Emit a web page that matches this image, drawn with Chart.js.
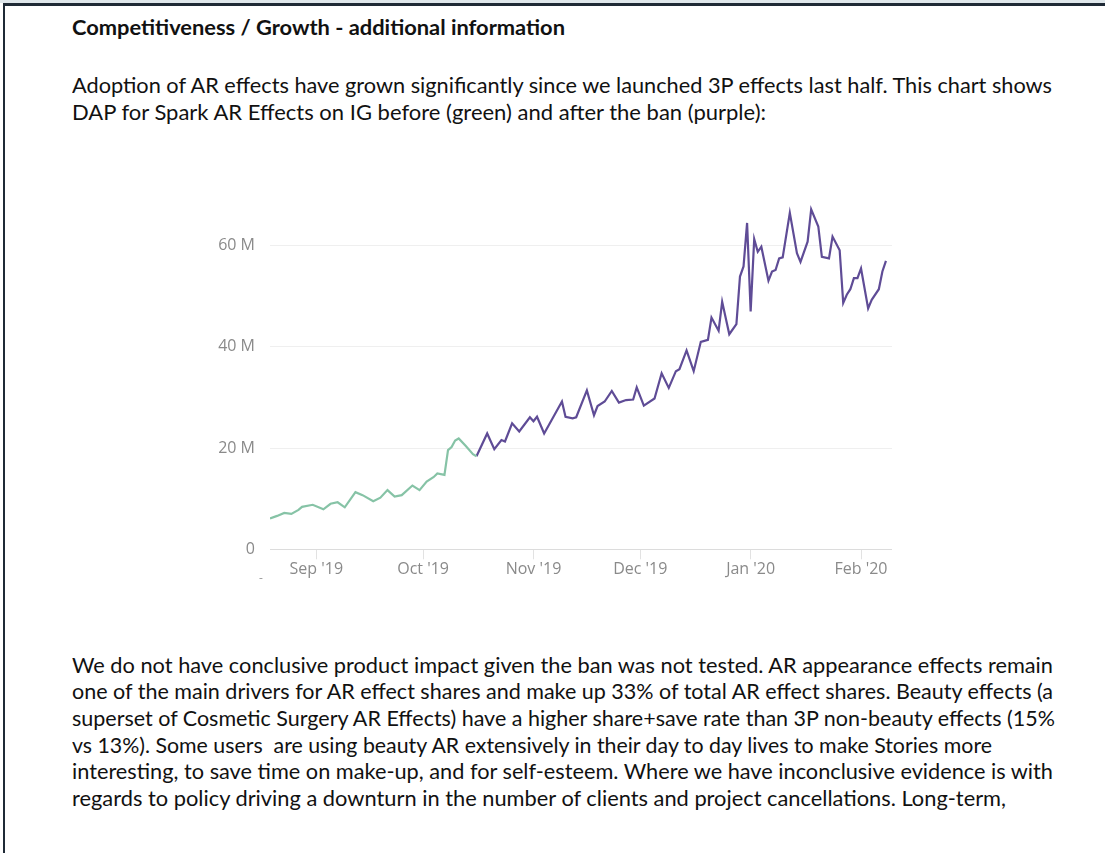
<!DOCTYPE html>
<html>
<head>
<meta charset="utf-8">
<script src="https://cdn.jsdelivr.net/npm/chart.js@4.4.1/dist/chart.umd.min.js"></script>
<style>
  html, body { margin:0; padding:0; background:#ffffff; width:1105px; height:853px; overflow:hidden; }
  #topstrip { position:absolute; left:0; top:0; width:1105px; height:3px; background:#dfe7eb; }
  #topborder { position:absolute; left:3px; top:3px; width:1102px; height:3px; background:#1f2a36; }
  #leftborder { position:absolute; left:3px; top:3px; width:2px; height:850px; background:#1f2a36; }
  .ln { position:absolute; left:72px; white-space:pre; font-family:Lato, "Open Sans", sans-serif; font-size:21px; line-height:26px; color:#111111; transform-origin:0 0; display:inline-block; }
  .b { font-weight:700; }
  #wrap { position:absolute; left:180px; top:170px; width:740px; height:430px; }
  #dash { position:absolute; left:259px; top:569px; font-family:"Open Sans", sans-serif; font-size:12px; color:#9a9a9a; }
</style>
</head>
<body>
<div id="topstrip"></div>
<div id="topborder"></div>
<div id="leftborder"></div>

<div class="ln b" style="top:14px" data-w="493">Competitiveness / Growth - additional information</div>
<div class="ln" style="top:72px" data-w="980">Adoption of AR effects have grown significantly since we launched 3P effects last half. This chart shows</div>
<div class="ln" style="top:99px" data-w="694">DAP for Spark AR Effects on IG before (green) and after the ban (purple):</div>

<div class="ln" style="top:652px" data-w="981">We do not have conclusive product impact given the ban was not tested. AR appearance effects remain</div>
<div class="ln" style="top:678px" data-w="981">one of the main drivers for AR effect shares and make up 33% of total AR effect shares. Beauty effects (a</div>
<div class="ln" style="top:705px" data-w="983">superset of Cosmetic Surgery AR Effects) have a higher share+save rate than 3P non-beauty effects (15%</div>
<div class="ln" style="top:732px" data-w="920">vs 13%). Some users  are using beauty AR extensively in their day to day lives to make Stories more</div>
<div class="ln" style="top:758px" data-w="981">interesting, to save time on make-up, and for self-esteem. Where we have inconclusive evidence is with</div>
<div class="ln" style="top:785px" data-w="934">regards to policy driving a downturn in the number of clients and project cancellations. Long-term,</div>

<div id="wrap"><canvas id="c" width="740" height="430"></canvas></div>
<div id="dash">-</div>

<script>
// ---- data (DAP, millions) ----
const startDate = '2019-08-19';

const beforeDates = ['2019-08-19','2019-08-21','2019-08-23','2019-08-25','2019-08-27','2019-08-28','2019-08-31',
  '2019-09-03','2019-09-05','2019-09-07','2019-09-09','2019-09-12','2019-09-14','2019-09-17','2019-09-19',
  '2019-09-21','2019-09-23','2019-09-25','2019-09-28','2019-09-30','2019-10-02','2019-10-04','2019-10-05',
  '2019-10-07','2019-10-08','2019-10-09','2019-10-10','2019-10-11','2019-10-13','2019-10-15','2019-10-16'];
const beforeValues = [6.1,6.6,7.2,7.0,7.8,8.4,8.8,
  7.9,9.0,9.3,8.3,11.3,10.7,9.5,10.2,
  11.7,10.4,10.7,12.6,11.7,13.4,14.3,15.0,
  14.7,19.6,20.2,21.5,21.9,20.4,18.8,18.4];

const afterDates = ['2019-10-16','2019-10-19','2019-10-21','2019-10-23','2019-10-24','2019-10-26','2019-10-28',
  '2019-10-31','2019-11-01','2019-11-02','2019-11-04','2019-11-09','2019-11-10','2019-11-12','2019-11-13',
  '2019-11-16','2019-11-18','2019-11-19','2019-11-21','2019-11-23','2019-11-25','2019-11-27','2019-11-29',
  '2019-11-30','2019-12-02','2019-12-05','2019-12-07','2019-12-09','2019-12-11','2019-12-12','2019-12-14',
  '2019-12-16','2019-12-18','2019-12-20','2019-12-21','2019-12-23','2019-12-24','2019-12-26','2019-12-28',
  '2019-12-29','2019-12-30','2019-12-31','2020-01-01','2020-01-02','2020-01-03','2020-01-04','2020-01-06',
  '2020-01-07','2020-01-08','2020-01-09','2020-01-10','2020-01-12','2020-01-14','2020-01-15','2020-01-17',
  '2020-01-18','2020-01-20','2020-01-21','2020-01-23','2020-01-24','2020-01-26','2020-01-27','2020-01-28',
  '2020-01-29','2020-01-30','2020-01-31','2020-02-01','2020-02-03','2020-02-04','2020-02-06','2020-02-07',
  '2020-02-08'];
const afterValues = [18.4,22.9,19.8,21.6,21.3,24.9,23.3,
  26.1,25.3,26.2,22.9,29.2,26.2,25.9,26.1,
  31.4,26.5,28.3,29.2,31.3,29.0,29.5,29.6,
  32.0,28.4,29.8,34.8,31.9,35.2,35.6,39.3,
  35.2,41.0,41.4,45.8,43.2,48.9,42.5,44.5,
  53.9,55.9,64.5,47.0,61.3,58.8,59.8,53.1,
  54.9,55.2,57.5,57.7,66.5,58.5,56.8,60.8,
  67.2,63.8,57.8,57.5,61.8,59.1,48.7,50.3,
  51.4,53.6,53.6,55.5,47.6,49.3,51.4,54.9,
  57.0];

const monthTickDates = ['2019-09-01','2019-10-01','2019-11-01','2019-12-01','2020-01-01','2020-02-01'];
const monthTickLabels = ["Sep '19","Oct '19","Nov '19","Dec '19","Jan '20","Feb '20"];
const yTickValues = [0, 20, 40, 60];
const yTickLabels = ['0', '20 M', '40 M', '60 M'];

// ---- helpers ----
const DAY = 86400000;
const t0 = Date.parse(startDate + 'T00:00:00Z');
const dayIndex = s => Math.round((Date.parse(s + 'T00:00:00Z') - t0) / DAY);
const toPoints = (dates, vals) => dates.map((d, i) => ({ x: dayIndex(d), y: vals[i] }));
const monthTickPos = monthTickDates.map(dayIndex);

// fit text lines horizontally
document.querySelectorAll('.ln').forEach(el => {
  const w = el.getBoundingClientRect().width;
  const target = +el.dataset.w;
  el.style.transform = 'scaleX(' + (target / w) + ')';
});

new Chart(document.getElementById('c'), {
  type: 'line',
  data: {
    datasets: [
      { data: toPoints(beforeDates, beforeValues), borderColor: '#86c3a6', borderWidth: 2.2, pointRadius: 0, tension: 0, fill: false },
      { data: toPoints(afterDates, afterValues), borderColor: '#5f4c96', borderWidth: 2.2, pointRadius: 0, tension: 0, fill: false }
    ]
  },
  options: {
    responsive: false,
    animation: false,
    devicePixelRatio: 1,
    layout: { padding: { left: 0, right: 28, top: 25.1, bottom: 10.7 } },
    plugins: { legend: { display: false }, tooltip: { enabled: false } },
    scales: {
      x: {
        type: 'linear',
        min: 0,
        max: 174.7,
        afterBuildTicks: s => { s.ticks = monthTickPos.map(v => ({ value: v })); },
        afterFit: s => { s.height = 40; },
        grid: { drawOnChartArea: false, drawTicks: true, tickLength: 10, color: '#e2e2e2' },
        border: { display: false },
        ticks: {
          autoSkip: false, maxRotation: 0, padding: 1,
          color: '#8a8a8a', font: { family: 'Open Sans', size: 16 },
          callback: v => { const i = monthTickPos.indexOf(v); return i >= 0 ? monthTickLabels[i] : ''; }
        }
      },
      y: {
        min: 0,
        max: 70,
        afterBuildTicks: s => { s.ticks = yTickValues.map(v => ({ value: v })); },
        afterFit: s => { s.width = 90; },
        grid: { drawTicks: false, color: ctx => (ctx.tick && ctx.tick.value === 0) ? '#dcdcdc' : '#efefef', lineWidth: 1 },
        border: { display: false },
        ticks: {
          padding: 15,
          color: '#8a8a8a', font: { family: 'Open Sans', size: 16 },
          callback: v => { const i = yTickValues.indexOf(v); return i >= 0 ? yTickLabels[i] : ''; }
        }
      }
    }
  }
});
</script>
</body>
</html>
